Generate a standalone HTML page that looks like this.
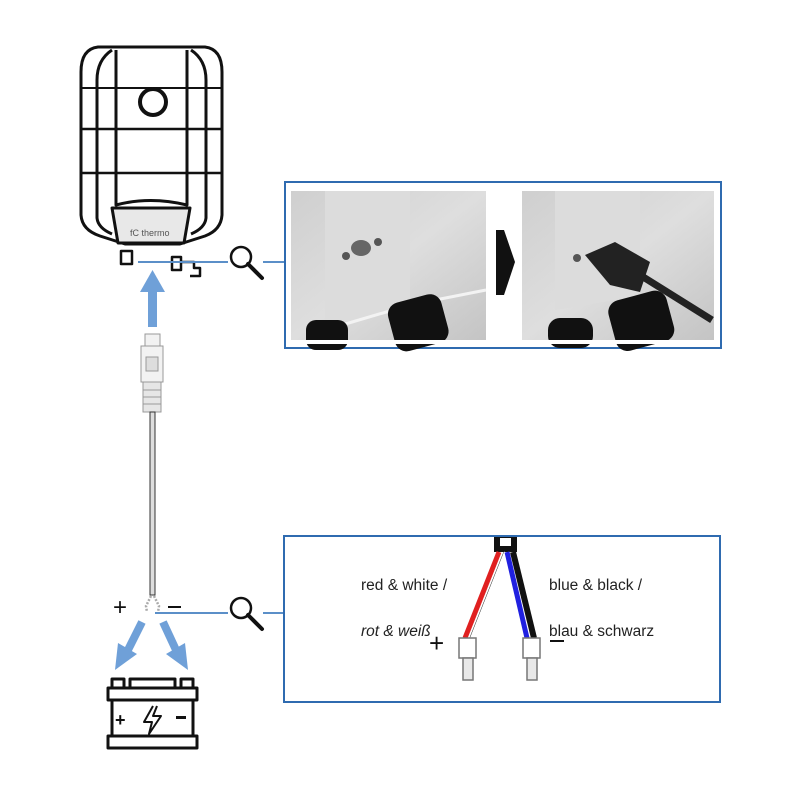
<!DOCTYPE html>
<html><head><meta charset="utf-8"><style>
html,body{margin:0;padding:0;background:#fff;}
svg{display:block;}
text{font-family:"Liberation Sans",sans-serif;}
</style></head><body>
<svg width="800" height="800" viewBox="0 0 800 800" xmlns="http://www.w3.org/2000/svg">
<defs>
<linearGradient id="p1" x1="0" y1="0" x2="1" y2="1">
<stop offset="0" stop-color="#cfcfcf"/><stop offset="0.5" stop-color="#dedede"/><stop offset="1" stop-color="#c4c4c4"/>
</linearGradient>
</defs>
<!-- heater -->
<g fill="none" stroke="#111" stroke-width="3" stroke-linejoin="round">
<path d="M98,47 Q81,49 81,72 L81,215 Q82,230 100,236 L125,244 L180,244 L205,236 Q221,230 222,215 L222,72 Q222,49 205,47 Z"/>
<path d="M112,50 Q97,60 97,80 L97,218 Q98,228 112,234"/>
<path d="M191,50 Q206,60 206,80 L206,218 Q205,228 191,234"/>
<path d="M116,50 L116,205 Q150,196 187,205 L187,50"/>
<line x1="81" y1="88" x2="222" y2="88" stroke-width="2"/>
<line x1="81" y1="129" x2="222" y2="129" stroke-width="2.5"/>
<line x1="81" y1="173" x2="222" y2="173" stroke-width="2.5"/>
<circle cx="153" cy="102" r="13" stroke-width="4"/>
<path d="M112,208 L190,208 L184,243 L118,243 Z" fill="#e8e8e8" stroke-width="3"/>
<rect x="121" y="251" width="11" height="13" stroke-width="2.5" fill="#fff"/>
<rect x="172" y="257" width="9" height="13" stroke-width="2.5"/>
<path d="M181,262 L194,262 L194,268 L200,268 L200,276 L190,276" stroke-width="2.5"/>
</g>
<text x="130" y="236" font-size="9" fill="#555">fC thermo</text>
<!-- connector lines -->
<g stroke="#5b8fc8" stroke-width="2" fill="none">
<line x1="138" y1="262" x2="228" y2="262"/>
<line x1="263" y1="262" x2="285" y2="262"/>
<line x1="155" y1="613" x2="228" y2="613"/>
<line x1="263" y1="613" x2="284" y2="613"/>
</g>
<!-- magnifiers -->
<g fill="none" stroke="#111">
<circle cx="241" cy="257" r="10" stroke-width="2.5"/>
<line x1="248" y1="264" x2="262" y2="278" stroke-width="4" stroke-linecap="round"/>
<circle cx="241" cy="608" r="10" stroke-width="2.5"/>
<line x1="248" y1="615" x2="262" y2="629" stroke-width="4" stroke-linecap="round"/>
</g>
<!-- up arrow -->
<rect x="148" y="290" width="9" height="37" fill="#6fa0d8"/>
<polygon points="152.5,270 140,292 165,292" fill="#6fa0d8"/>
<!-- cable connector -->
<g stroke="#999" fill="#f2f2f2" stroke-width="1">
<rect x="145" y="334" width="15" height="12"/>
<rect x="141" y="346" width="22" height="36"/>
<rect x="146" y="357" width="12" height="14" fill="#ddd"/>
<rect x="143" y="382" width="18" height="30" fill="#e6e6e6"/>
<line x1="143" y1="390" x2="161" y2="390"/><line x1="143" y1="397" x2="161" y2="397"/><line x1="143" y1="404" x2="161" y2="404"/>
</g>
<rect x="150" y="412" width="5" height="183" fill="#ddd" stroke="#333" stroke-width="1"/>
<path d="M151,596 L146,606 L147,612 M154,596 L159,606 L158,612" stroke="#aaa" stroke-width="2.5" fill="none" stroke-dasharray="2 1.5"/>
<text x="113" y="615" font-size="24" fill="#111">+</text>
<rect x="168" y="606" width="13" height="2" fill="#111"/>
<!-- down arrows -->
<g stroke="#6fa0d8" stroke-width="8" fill="#6fa0d8">
<line x1="142" y1="622" x2="128" y2="650"/>
<line x1="163" y1="622" x2="176" y2="650"/>
</g>
<polygon points="115,670 118,643 137,654" fill="#6fa0d8"/>
<polygon points="188,670 166,654 185,643" fill="#6fa0d8"/>
<!-- battery -->
<g fill="none" stroke="#111" stroke-width="3" stroke-linejoin="round">
<rect x="112" y="679" width="12" height="9"/>
<rect x="130" y="679" width="45" height="9"/>
<rect x="181" y="679" width="12" height="9"/>
<rect x="108" y="688" width="89" height="12"/>
<rect x="112" y="700" width="81" height="36"/>
<rect x="108" y="736" width="89" height="12"/>
<path d="M153,706 L144,722 L152,722 L149,734 L161,716 L153,716 L157,706" stroke-width="2"/>
</g>
<text x="115" y="726" font-size="18" font-weight="bold" fill="#111">+</text>
<rect x="176" y="716" width="10" height="3" fill="#111"/>
<!-- top panel -->
<rect x="285" y="182" width="436" height="166" fill="#fff" stroke="#2f6bb0" stroke-width="2"/>
<rect x="291" y="191" width="195" height="149" fill="url(#p1)"/>
<path d="M325,191 L325,330 L410,305 L410,191 Z" fill="#dcdcdc"/>
<path d="M325,330 L410,305 L486,290" stroke="#f3f3f3" stroke-width="3" fill="none"/>
<ellipse cx="361" cy="248" rx="10" ry="8" fill="#666"/>
<circle cx="346" cy="256" r="4" fill="#555"/><circle cx="378" cy="242" r="4" fill="#555"/>
<rect x="306" y="320" width="42" height="30" rx="10" fill="#111"/>
<rect x="390" y="298" width="55" height="50" rx="12" fill="#111" transform="rotate(-15 417 320)"/>
<rect x="291" y="340" width="195" height="4" fill="#fff"/>
<polygon points="496,230 504,230 515,262 504,295 496,295" fill="#111"/>
<rect x="522" y="191" width="192" height="149" fill="url(#p1)"/>
<path d="M555,191 L555,310 L640,296 L640,191 Z" fill="#dcdcdc"/>
<circle cx="577" cy="258" r="4" fill="#555"/>
<path d="M585,255 L615,242 L650,262 L640,292 L610,285 Z" fill="#222"/>
<path d="M640,275 L712,320" stroke="#222" stroke-width="7"/>
<rect x="548" y="318" width="45" height="30" rx="12" fill="#111"/>
<rect x="610" y="295" width="60" height="52" rx="12" fill="#111" transform="rotate(-15 640 316)"/>
<rect x="522" y="340" width="192" height="4" fill="#fff"/>
<!-- bottom panel -->
<rect x="284" y="536" width="436" height="166" fill="#fff" stroke="#2f6bb0" stroke-width="2"/>
<rect x="494" y="537" width="23" height="15" fill="#111"/>
<rect x="500" y="538" width="11" height="8" fill="#fff"/>
<line x1="499" y1="552" x2="465" y2="638" stroke="#e02020" stroke-width="5"/>
<line x1="504" y1="552" x2="470" y2="638" stroke="#111" stroke-width="1"/>
<line x1="505" y1="552" x2="471" y2="638" stroke="#fff" stroke-width="2"/>
<line x1="507" y1="552" x2="527" y2="638" stroke="#2020e0" stroke-width="5"/>
<line x1="513" y1="552" x2="534" y2="638" stroke="#111" stroke-width="6"/>
<g fill="#fff" stroke="#777" stroke-width="1.5">
<rect x="459" y="638" width="17" height="20"/>
<rect x="463" y="658" width="10" height="22" fill="#e8e8e8"/>
<rect x="523" y="638" width="17" height="20"/>
<rect x="527" y="658" width="10" height="22" fill="#e8e8e8"/>
</g>
<text x="361" y="590" font-size="15.5" fill="#222">red &amp; white /</text>
<text x="361" y="636" font-size="15.5" font-style="italic" fill="#222">rot &amp; weiß</text>
<text x="549" y="590" font-size="15.5" fill="#222">blue &amp; black /</text>
<text x="549" y="636" font-size="15.5" fill="#222">blau &amp; schwarz</text>
<text x="429" y="652" font-size="26" fill="#111">+</text>
<rect x="550" y="640" width="14" height="2" fill="#111"/>
</svg>
</body></html>
